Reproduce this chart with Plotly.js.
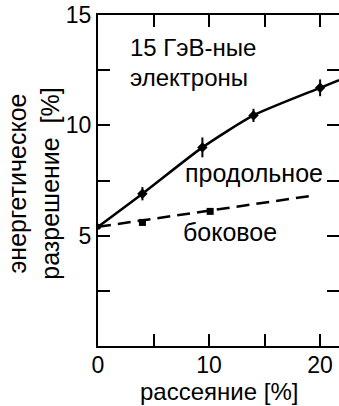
<!DOCTYPE html>
<html>
<head>
<meta charset="utf-8">
<script src="https://cdn.plot.ly/plotly-3.0.1.min.js"></script>
<style>
html,body{margin:0;padding:0;overflow:hidden;background:#fff;}
#chart{width:345px;height:406px;}
</style>
</head>
<body>
<div id="chart"></div>
<script>
// Data
const longX = [4, 9.4, 14, 20];
const longY = [6.9, 9.0, 10.45, 11.7];
const longErr = [0.3, 0.45, 0.3, 0.38];
const longFitX = [0, 4, 9.4, 14, 20, 21.7];
const longFitY = [5.4, 6.9, 9.0, 10.45, 11.7, 12.05];

const sideX = [0, 4, 10.1];
const sideY = [5.4, 5.6, 6.1];
const sideFitX = [0, 19.1];
const sideFitY = [5.4, 6.8];

const xTickVals = [0, 5, 10, 15, 20];
const xTickText = ['0', '', '10', '', '20'];
const yTickVals = [0, 2.5, 5, 7.5, 10, 12.5, 15];
const yTickText = ['', '', '5', '', '10', '', '15'];

const xTitle = 'рассеяние [%]';
const yTitle = 'энергетическое<br>разрешение  [%]';

const FONT = 'Liberation Sans, Arial, sans-serif';
const FS = 25;
const TFS = 23;

const traces = [
  {x: longFitX, y: longFitY, mode: 'lines', line: {color: '#000', width: 2.5, shape: 'spline', smoothing: 0.6}, hoverinfo: 'skip'},
  {x: sideFitX, y: sideFitY, mode: 'lines', line: {color: '#000', width: 2.5, dash: '13px,7px'}, hoverinfo: 'skip'},
  {x: longX, y: longY, mode: 'markers', marker: {symbol: 'diamond', size: 8, color: '#000'},
   error_y: {type: 'data', array: longErr, visible: true, color: '#000', thickness: 2, width: 0}},
  {x: sideX.slice(1), y: sideY.slice(1), mode: 'markers', marker: {symbol: 'square', size: 7, color: '#000'}},
  {x: sideX.slice(0,1), y: sideY.slice(0,1), mode: 'markers', marker: {symbol: 'circle', size: 6, color: '#000'}}
];

const layout = {
  width: 345, height: 406,
  margin: {l: 98, r: 6, t: 15, b: 60},
  showlegend: false,
  paper_bgcolor: '#fff', plot_bgcolor: '#fff',
  font: {family: FONT, size: FS, color: '#000'},
  xaxis: {
    range: [0, 21.7], tickvals: xTickVals, ticktext: xTickText,
    ticks: 'inside', ticklen: 12, tickwidth: 2, tickcolor: '#000',
    showline: true, linewidth: 2, linecolor: '#000', mirror: 'ticks',
    showgrid: false, zeroline: false, tickfont: {size: TFS}, ticklabelstandoff: -3
  },
  yaxis: {
    range: [0, 15], tickvals: yTickVals, ticktext: yTickText,
    ticks: 'inside', ticklen: 12, tickwidth: 2, tickcolor: '#000',
    showline: true, linewidth: 2, linecolor: '#000', mirror: 'ticks',
    showgrid: false, zeroline: false, tickfont: {size: TFS}
  },
  annotations: [
    {x: 0.5, y: -0.181, xref: 'paper', yref: 'paper', text: xTitle, showarrow: false, xanchor: 'center', yanchor: 'bottom', borderpad: 0, font: {size: 24}},
    {x: -0.266, y: 0.49, xref: 'paper', yref: 'paper', text: yTitle, textangle: -90, showarrow: false, xanchor: 'center', yanchor: 'middle', font: {size: FS}},
    {x: 2.7, y: 13.55, xref: 'x', yref: 'y', text: '15 ГэВ-ные', showarrow: false, xanchor: 'left', yanchor: 'middle', font: {size: 24}},
    {x: 2.7, y: 12.18, xref: 'x', yref: 'y', text: 'электроны', showarrow: false, xanchor: 'left', yanchor: 'middle', font: {size: 24}},
    {x: 7.66, y: 7.86, xref: 'x', yref: 'y', text: 'продольное', showarrow: false, xanchor: 'left', yanchor: 'middle', font: {size: FS}},
    {x: 7.48, y: 5.18, xref: 'x', yref: 'y', text: 'боковое', showarrow: false, xanchor: 'left', yanchor: 'middle', font: {size: FS}}
  ]
};

Plotly.newPlot('chart', traces, layout, {staticPlot: true, displayModeBar: false});
</script>
</body>
</html>
